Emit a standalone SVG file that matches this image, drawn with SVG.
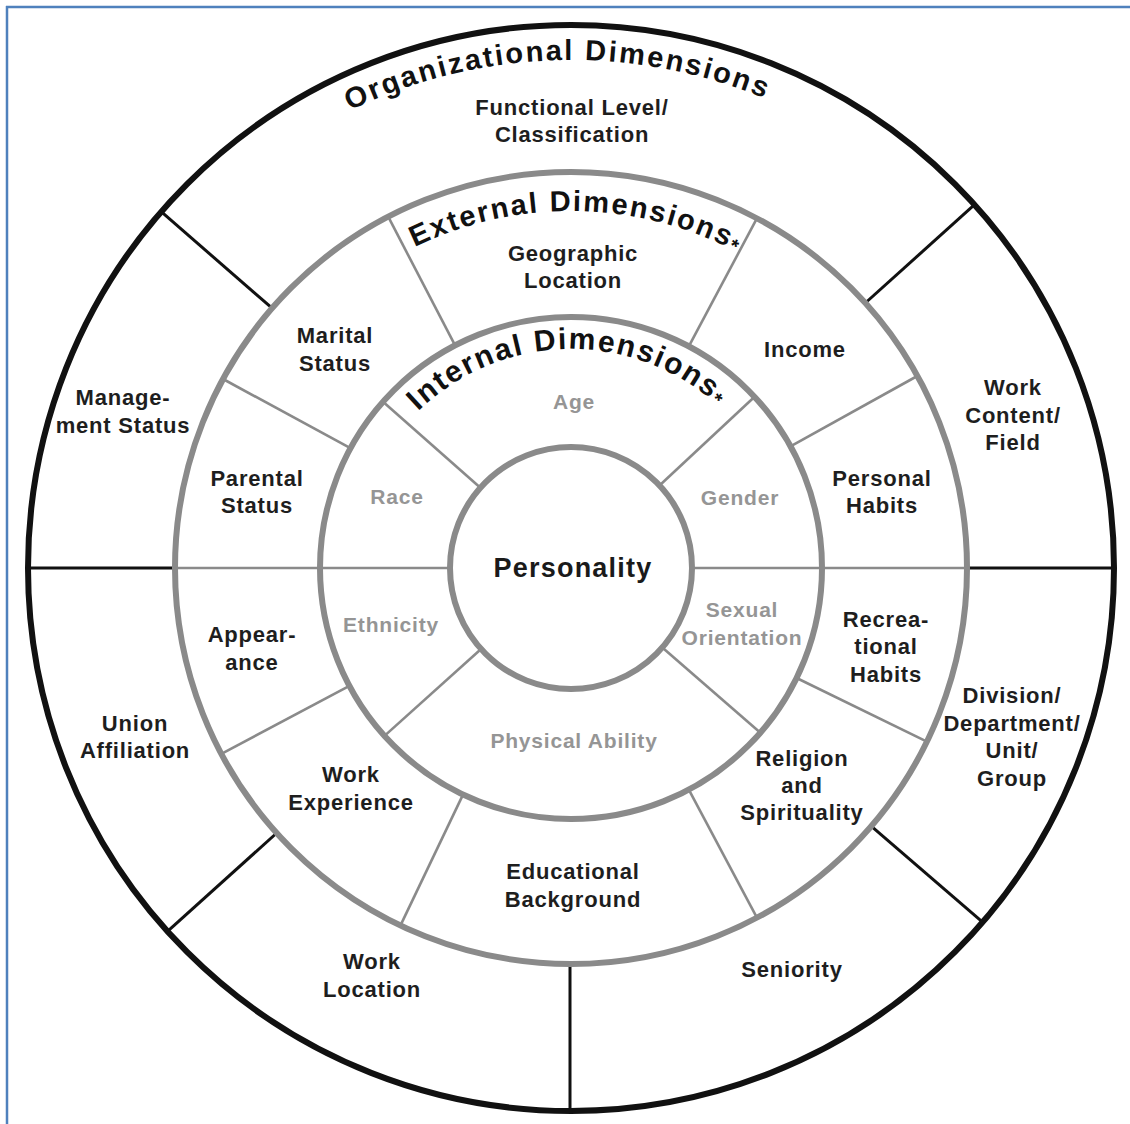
<svg xmlns="http://www.w3.org/2000/svg" width="1130" height="1124" viewBox="0 0 1130 1124">
<defs>
<style>
.lbl{font-family:"Liberation Sans",Arial,sans-serif;font-weight:bold;font-size:22px;fill:#1e1e1e;text-anchor:middle;letter-spacing:0.8px}
.int{font-size:21px;fill:#959595}
.ttl{font-family:"Liberation Sans",Arial,sans-serif;font-weight:bold;fill:#111;text-anchor:middle}
.ring{fill:none;stroke:#8a8a8a;stroke-width:6}
.outer{fill:none;stroke:#111;stroke-width:6}
.dk{stroke:#111;stroke-width:3}
.gr{stroke:#8a8a8a;stroke-width:2.6}
</style>
<path id="arcOrg" d="M63,568 A508,508 0 0 1 1079,568"/>
<path id="arcExt" d="M214,568 A357,357 0 0 1 928,568"/>
<path id="arcInt" d="M352,568 A219,219 0 0 1 790,568"/>
</defs>
<rect x="0" y="0" width="1130" height="1124" fill="#fff"/>
<g id="frame" stroke="#4F81BD" stroke-width="2.5">
<line x1="6" y1="7" x2="1130" y2="7"/>
<line x1="7" y1="6" x2="7" y2="1124"/>
</g>

<g id="connectors">
<line class="dk" x1="967" y1="568" x2="1114" y2="568"/>
<line class="dk" x1="865.3" y1="303" x2="974.5" y2="204.7"/>
<line class="dk" x1="272.1" y1="308.2" x2="161.2" y2="211.7"/>
<line class="dk" x1="175" y1="568" x2="28" y2="568"/>
<line class="dk" x1="276.7" y1="833" x2="167.5" y2="931.3"/>
<line class="dk" x1="570" y1="964" x2="570" y2="1111"/>
<line class="dk" x1="871.2" y1="826.2" x2="982.6" y2="922.1"/>
<line class="gr" x1="822" y1="568" x2="967" y2="568"/>
<line class="gr" x1="790.5" y1="446.3" x2="917.3" y2="376"/>
<line class="gr" x1="688.8" y1="346.4" x2="756.9" y2="218.4"/>
<line class="gr" x1="455.1" y1="345.4" x2="388.2" y2="216.7"/>
<line class="gr" x1="350.4" y1="448.2" x2="223" y2="379"/>
<line class="gr" x1="320" y1="568" x2="175" y2="568"/>
<line class="gr" x1="349.4" y1="685.8" x2="221.4" y2="753.9"/>
<line class="gr" x1="463" y1="794.6" x2="400.5" y2="925.4"/>
<line class="gr" x1="688.8" y1="789.6" x2="756.9" y2="917.6"/>
<line class="gr" x1="796.6" y1="678" x2="926.9" y2="741.6"/>
<line class="gr" x1="692" y1="568" x2="822" y2="568"/>
<line class="gr" x1="659.5" y1="485.5" x2="754.6" y2="396.8"/>
<line class="gr" x1="480.4" y1="487.8" x2="383" y2="401.7"/>
<line class="gr" x1="450" y1="568" x2="320" y2="568"/>
<line class="gr" x1="481.1" y1="649" x2="384.5" y2="735.9"/>
<line class="gr" x1="662.3" y1="647.4" x2="760.4" y2="732.7"/>
</g>

<g id="circles">
<circle class="outer" cx="571" cy="568" r="543"/>
<circle class="ring" cx="571" cy="568" r="396"/>
<circle class="ring" cx="571" cy="568" r="251"/>
<circle class="ring" cx="571" cy="568" r="121"/>
</g>

<g id="organizational-dimensions">
<text class="ttl" font-size="29" letter-spacing="2.2" transform="rotate(-1.6 571 568)"><textPath href="#arcOrg" startOffset="50%">Organizational Dimensions</textPath></text>
<g id="functional-level"><text class="lbl" x="572" y="115">Functional Level/</text><text class="lbl" x="572" y="142">Classification</text></g>
<g id="management-status"><text class="lbl" x="123" y="405">Manage-</text><text class="lbl" x="123" y="433">ment Status</text></g>
<g id="union-affiliation"><text class="lbl" x="135" y="731">Union</text><text class="lbl" x="135" y="758">Affiliation</text></g>
<g id="work-location"><text class="lbl" x="372" y="969">Work</text><text class="lbl" x="372" y="997">Location</text></g>
<g id="seniority"><text class="lbl" x="792" y="977">Seniority</text></g>
<g id="division"><text class="lbl" x="1012" y="703">Division/</text><text class="lbl" x="1012" y="731">Department/</text><text class="lbl" x="1012" y="758">Unit/</text><text class="lbl" x="1012" y="786">Group</text></g>
<g id="work-content"><text class="lbl" x="1013" y="395">Work</text><text class="lbl" x="1013" y="423">Content/</text><text class="lbl" x="1013" y="450">Field</text></g>
</g>

<g id="external-dimensions">
<text class="ttl" font-size="29" letter-spacing="2" transform="rotate(0.9 571 568)"><textPath href="#arcExt" startOffset="50%">External Dimensions<tspan font-size="20" dy="3">*</tspan></textPath></text>
<g id="geographic-location"><text class="lbl" x="573" y="261">Geographic</text><text class="lbl" x="573" y="288">Location</text></g>
<g id="marital-status"><text class="lbl" x="335" y="343">Marital</text><text class="lbl" x="335" y="371">Status</text></g>
<g id="income"><text class="lbl" x="805" y="357">Income</text></g>
<g id="personal-habits"><text class="lbl" x="882" y="486">Personal</text><text class="lbl" x="882" y="513">Habits</text></g>
<g id="recreational-habits"><text class="lbl" x="886" y="627">Recrea-</text><text class="lbl" x="886" y="654">tional</text><text class="lbl" x="886" y="682">Habits</text></g>
<g id="religion"><text class="lbl" x="802" y="766">Religion</text><text class="lbl" x="802" y="793">and</text><text class="lbl" x="802" y="820">Spirituality</text></g>
<g id="educational-background"><text class="lbl" x="573" y="879">Educational</text><text class="lbl" x="573" y="907">Background</text></g>
<g id="work-experience"><text class="lbl" x="351" y="782">Work</text><text class="lbl" x="351" y="810">Experience</text></g>
<g id="appearance"><text class="lbl" x="252" y="642">Appear-</text><text class="lbl" x="252" y="670">ance</text></g>
<g id="parental-status"><text class="lbl" x="257" y="486">Parental</text><text class="lbl" x="257" y="513">Status</text></g>
</g>

<g id="internal-dimensions">
<text class="ttl" font-size="30" letter-spacing="1.8" transform="rotate(-1 571 568)"><textPath href="#arcInt" startOffset="50%">Internal Dimensions<tspan font-size="20" dy="3">*</tspan></textPath></text>
<g id="age"><text class="lbl int" x="574" y="409">Age</text></g>
<g id="race"><text class="lbl int" x="397" y="504">Race</text></g>
<g id="gender"><text class="lbl int" x="740" y="505">Gender</text></g>
<g id="ethnicity"><text class="lbl int" x="391" y="632">Ethnicity</text></g>
<g id="sexual-orientation"><text class="lbl int" x="742" y="617">Sexual</text><text class="lbl int" x="742" y="645">Orientation</text></g>
<g id="physical-ability"><text class="lbl int" x="574" y="748">Physical Ability</text></g>
</g>

<g id="personality">
<text class="lbl" x="573" y="577" style="font-size:27px;letter-spacing:1.2px;fill:#1a1a1a">Personality</text>
</g>
</svg>
